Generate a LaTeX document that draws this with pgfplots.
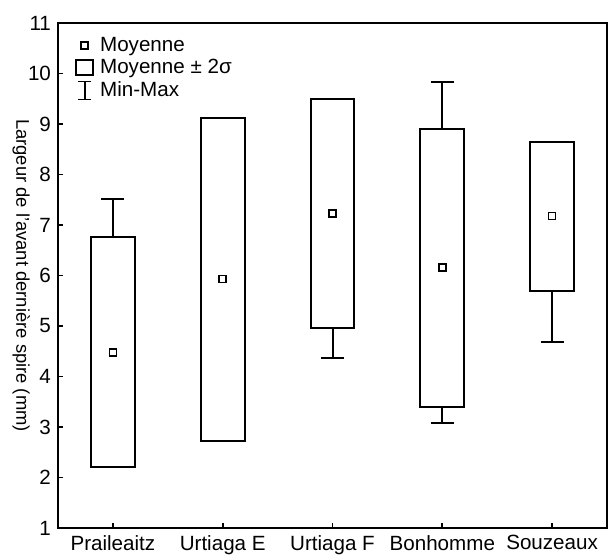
\documentclass[border=0pt]{standalone}
\usepackage{pgfplots}
\pgfplotsset{compat=1.18}
\usepgfplotslibrary{statistics}
\usepackage{fontspec}
\setmainfont{Liberation Sans}
\begin{document}
\begin{tikzpicture}
\useasboundingbox (-29pt,-14.5pt) rectangle (278pt,264pt);
\begin{axis}[
  at={(0,0)}, anchor=south west,
  scale only axis, width=274.5pt, height=252.5pt,
  xmin=-0.5, xmax=4.5, ymin=1, ymax=11,
  xtick={0,1,2,3,4},
  xticklabels={Praileaitz, Urtiaga E, Urtiaga F, Bonhomme, Souzeaux},
  ytick={1,2,...,11},
  tick pos=left, tick align=inside,
  major tick length=2.5pt,
  every tick/.style={black, line width=0.9pt},
  axis line style={line width=1pt},
  tick label style={font=\fontsize{10.3}{12}\selectfont},
  /pgf/number format/assume math mode=true,
  ylabel={Largeur de l'avant dernière spire (mm)},
  every axis y label/.style={at={(axis description cs:-0.067,0.5)}, anchor=center, rotate=-90, font=\fontsize{9.2}{11}\selectfont},
  boxplot/draw direction=y,
  boxplot/box extend=0.4,
  boxplot/whisker extend=0.21,
  legend style={draw=none, fill=none, at={(axis description cs:0.027,0.985)}, anchor=north west, font=\fontsize{10.3}{12}\selectfont, row sep=-1.5pt, inner sep=1pt},
  legend cell align=left,
]
% Praileaitz
\addplot[black, line width=1pt, forget plot, boxplot prepared={draw direction=y, draw position=0, lower whisker=2.21, lower quartile=2.21, median=2.21, upper quartile=6.77, upper whisker=7.51}] coordinates {};
% Urtiaga E
\addplot[black, line width=1pt, forget plot, boxplot prepared={draw direction=y, draw position=1, lower whisker=2.72, lower quartile=2.72, median=2.72, upper quartile=9.12, upper whisker=9.12}] coordinates {};
% Urtiaga F
\addplot[black, line width=1pt, forget plot, boxplot prepared={draw direction=y, draw position=2, lower whisker=4.37, lower quartile=4.97, median=4.97, upper quartile=9.50, upper whisker=9.50}] coordinates {};
% Bonhomme
\addplot[black, line width=1pt, forget plot, boxplot prepared={draw direction=y, draw position=3, lower whisker=3.07, lower quartile=3.40, median=3.40, upper quartile=8.90, upper whisker=9.84}] coordinates {};
% Souzeaux
\addplot[black, line width=1pt, forget plot, boxplot prepared={draw direction=y, draw position=4, lower whisker=4.69, lower quartile=5.70, median=5.70, upper quartile=8.65, upper whisker=8.65}] coordinates {};
% means
\addplot[only marks, forget plot, mark=square*, mark size=1.75pt, mark options={fill=white, draw=black, line width=0.8pt}] coordinates {(0,4.48) (1,5.93) (2,7.23) (3,6.16) (4,7.18)};
\addlegendimage{legend image code/.code={\path[draw=none] (0pt,0pt) rectangle (10pt,0pt); \draw[black, line width=0.8pt, fill=white] (2.5pt,-1.75pt) rectangle (6pt,1.75pt);}}
\addlegendentry{Moyenne}
\addlegendimage{legend image code/.code={\path[draw=none] (0pt,0pt) rectangle (10pt,0pt); \draw[black, line width=0.9pt] (0pt,-3.5pt) rectangle (8.5pt,3.8pt);}}
\addlegendentry{Moyenne ± 2σ}
\addlegendimage{legend image code/.code={\path[draw=none] (0pt,0pt) rectangle (10pt,0pt); \draw[black, line width=0.9pt] (1pt,-4.5pt) -- (7.5pt,-4.5pt) (4.25pt,-4.5pt) -- (4.25pt,4.5pt) (1pt,4.5pt) -- (7.5pt,4.5pt);}}
\addlegendentry{Min-Max}
\end{axis}
\end{tikzpicture}
\end{document}
